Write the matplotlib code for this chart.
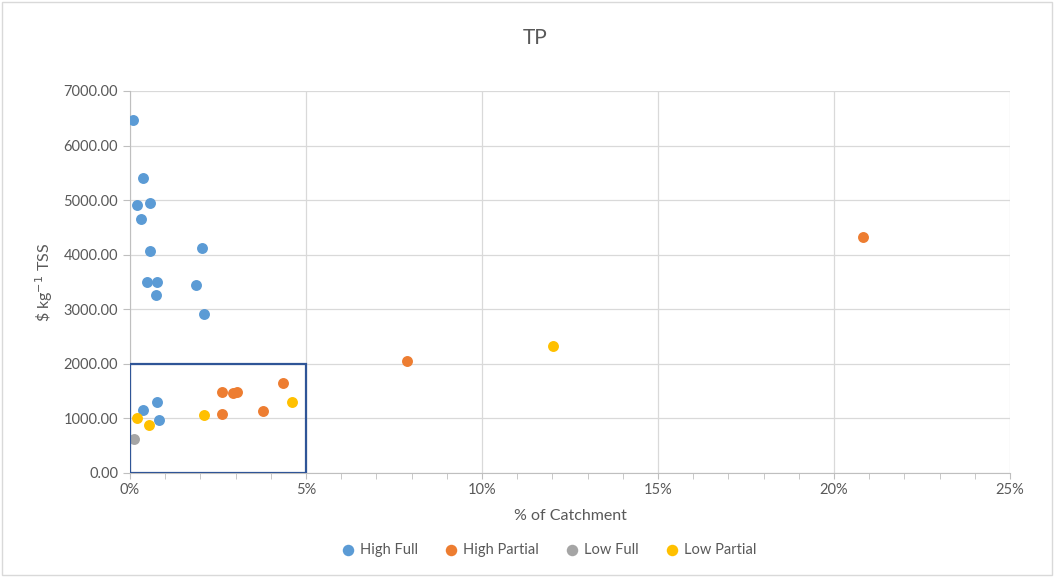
import matplotlib
matplotlib.use("Agg")
import matplotlib.pyplot as plt
from matplotlib.ticker import MultipleLocator, FuncFormatter
from matplotlib.patches import Rectangle

plt.rcParams['font.family'] = ['Lato', 'DejaVu Sans']

# % of catchment (x) and $ per kg (y)
high_full_x = [0.09, 0.37, 0.20, 0.57, 0.31, 0.57, 2.05, 0.48, 0.77, 0.74, 1.88, 2.10, 0.38, 0.76, 0.83]
high_full_y = [6470, 5406, 4911, 4948, 4654, 4068, 4123, 3500, 3500, 3262, 3445, 2914, 1154, 1295, 977]

high_partial_x = [20.82, 7.87, 4.34, 2.62, 2.92, 3.03, 2.61, 3.78]
high_partial_y = [4325, 2052, 1655, 1490, 1460, 1490, 1081, 1130]

low_full_x = [0.10]
low_full_y = [629]

low_partial_x = [12.02, 4.59, 2.09, 0.19, 0.55]
low_partial_y = [2327, 1307, 1057, 1008, 874]

series = [
    ("High Full", high_full_x, high_full_y, "#5B9BD5"),
    ("High Partial", high_partial_x, high_partial_y, "#ED7D31"),
    ("Low Full", low_full_x, low_full_y, "#A5A5A5"),
    ("Low Partial", low_partial_x, low_partial_y, "#FFC000"),
]

txt = "#595959"
fig = plt.figure(figsize=(10.54, 5.77), dpi=100)
ax = fig.add_axes([130/1054, 1-473/577, 880/1054, 382/577])

for name, xs, ys, c in series:
    ax.scatter(xs, ys, s=62, color=c, label=name, zorder=3, linewidths=0)

ax.add_patch(Rectangle((0, 0), 5, 2000, fill=False, edgecolor="#2F5597", linewidth=1.6, zorder=4))

ax.set_xlim(0, 25)
ax.set_ylim(0, 7000)
ax.xaxis.set_major_locator(MultipleLocator(5))
ax.xaxis.set_minor_locator(MultipleLocator(1))
ax.yaxis.set_major_locator(MultipleLocator(1000))
ax.xaxis.set_major_formatter(FuncFormatter(lambda v, p: f"{v:.0f}%"))
ax.yaxis.set_major_formatter(FuncFormatter(lambda v, p: f"{v:.2f}"))

ax.grid(True, which="major", color="#D9D9D9", linewidth=0.9, zorder=0)
ax.set_axisbelow(True)
for s in ["top", "right"]:
    ax.spines[s].set_visible(False)
ax.spines["left"].set_color("#BFBFBF")
ax.spines["bottom"].set_color("#BFBFBF")
ax.tick_params(axis="both", which="both", colors="#BFBFBF", labelcolor=txt, labelsize=10.5)
ax.tick_params(axis="x", which="both", length=4)
ax.tick_params(axis="y", which="major", length=5)

ax.set_xlabel("% of Catchment", color=txt, fontsize=11.5, labelpad=8)
ax.set_ylabel(r"\$ kg$^{-1}$ TSS", color=txt, fontsize=11.5, labelpad=6)

fig.text(535/1054, 1-38/577, "TP", ha="center", va="center", fontsize=15, color=txt)

leg = fig.legend(loc="center", bbox_to_anchor=(545/1054, 1-550/577), ncol=4, frameon=False,
                 fontsize=10.5, handletextpad=-0.2, columnspacing=1.3, markerscale=1.05)
for t in leg.get_texts():
    t.set_color(txt)

fig.patches.append(Rectangle((0.002, 0.003), 0.996, 0.994, transform=fig.transFigure,
                             fill=False, edgecolor="#D9D9D9", linewidth=1))

fig.savefig("out.png", dpi=100)
